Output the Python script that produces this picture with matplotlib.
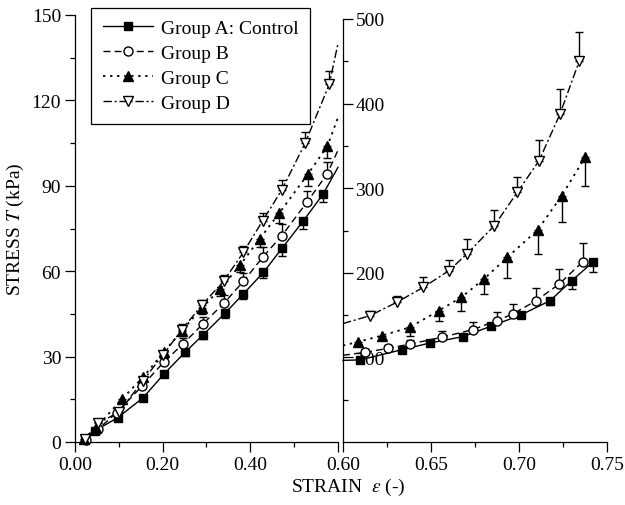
import matplotlib
matplotlib.use("Agg")
import matplotlib.pyplot as plt
from matplotlib.lines import Line2D
from matplotlib.ticker import MultipleLocator, FixedLocator

plt.rcParams['font.family'] = ['Liberation Serif', 'DejaVu Serif']
plt.rcParams['mathtext.fontset'] = 'stix'
plt.rcParams['font.size'] = 14

labels = ['Group A: Control', 'Group B', 'Group C', 'Group D']

# left panel (strain 0 - 0.6)
xA = [0.023, 0.046, 0.097, 0.155, 0.203, 0.251, 0.292, 0.342, 0.384, 0.43, 0.472, 0.52, 0.566]
yA = [1.0, 4.0, 8.5, 15.5, 23.9, 31.5, 37.6, 45.2, 52.0, 59.6, 68.0, 77.5, 87.1]
eA = [0.5, 0.6, 0.8, 1.0, 1.2, 1.4, 1.5, 1.7, 1.9, 2.1, 2.6, 2.7, 2.9]

xB = [0.025, 0.052, 0.095, 0.152, 0.202, 0.246, 0.292, 0.34, 0.384, 0.428, 0.472, 0.529, 0.575]
yB = [0.8, 4.4, 10.3, 19.5, 28.0, 34.4, 41.5, 48.8, 56.4, 64.9, 72.5, 84.2, 94.1]
eB = [0.5, 0.6, 0.8, 1.2, 1.5, 2.0, 2.3, 2.7, 3.0, 3.5, 4.0, 4.1, 4.1]

xC = [0.02, 0.048, 0.107, 0.155, 0.202, 0.244, 0.289, 0.331, 0.377, 0.421, 0.466, 0.531, 0.576]
yC = [1.0, 5.0, 15.1, 22.7, 31.5, 39.1, 47.0, 53.7, 62.2, 71.3, 80.4, 94.0, 104.0]
eC = [0.5, 0.6, 0.9, 1.2, 1.5, 1.8, 2.0, 2.3, 2.6, 2.9, 3.3, 3.9, 4.2]

xD = [0.022, 0.052, 0.1, 0.155, 0.2, 0.244, 0.289, 0.339, 0.384, 0.428, 0.472, 0.525, 0.58]
yD = [1.0, 6.5, 10.5, 21.5, 30.5, 39.5, 48.0, 56.5, 66.6, 77.7, 88.6, 105.0, 125.6]
eD = [0.5, 0.6, 0.8, 1.2, 1.5, 1.8, 2.0, 2.3, 2.1, 2.9, 3.5, 3.9, 4.8]

# curve values where the two panels meet (strain 0.6)
edge_val = [96.5, 102.5, 114.0, 140.0]

# right panel (strain 0.6 - 0.75)
rxA = [0.6097, 0.6333, 0.6494, 0.668, 0.6839, 0.701, 0.7176, 0.73, 0.7419]
ryA = [97.0, 109.0, 117.0, 124.5, 136.7, 150.1, 167.0, 190.7, 212.4]
reA = [3, 3, 3, 3, 3, 4, 5, 10, 12]

rxB = [0.6125, 0.6257, 0.638, 0.656, 0.6737, 0.6873, 0.6964, 0.7097, 0.7229, 0.7362]
ryB = [106.0, 110.7, 115.8, 123.7, 132.8, 143.4, 151.3, 167.0, 186.8, 213.1]
reB = [4, 4, 5, 7, 9, 10, 12, 15, 18, 22]

rxC = [0.6087, 0.622, 0.6379, 0.6544, 0.6672, 0.6801, 0.6934, 0.7106, 0.7243, 0.7375]
ryC = [118.5, 125.7, 135.5, 155.2, 171.0, 192.7, 218.3, 250.6, 291.2, 336.5]
reC = [3, 4, 10, 12, 16, 18, 24, 28, 31, 34]

rxD = [0.6153, 0.6305, 0.6456, 0.6602, 0.6703, 0.686, 0.699, 0.7114, 0.7233, 0.7343]
ryD = [149.3, 165.1, 182.8, 202.5, 222.2, 255.7, 295.1, 332.5, 387.7, 450.7]
reD = [6, 8, 12, 13, 18, 18, 18, 24, 29, 34]

left = [(xA, yA, eA), (xB, yB, eB), (xC, yC, eC), (xD, yD, eD)]
right = [(rxA, ryA, reA), (rxB, ryB, reB), (rxC, ryC, reC), (rxD, ryD, reD)]
markers = ['s', 'o', '^', 'v']
faces = ['black', 'white', 'black', 'white']
sizes = [6, 6.5, 7, 7.5]
styles = ['-', (0, (5, 3)), (0, (1.3, 2.6)), (0, (6, 2, 1.5, 2))]
widths = [1.0, 1.0, 1.3, 1.0]
err_down = [True, False, True, False]

fig = plt.figure(figsize=(6.25, 5.06), dpi=100)
ax1 = fig.add_axes([75 / 625, 63 / 506, 263 / 625, 427 / 506])
ax2 = fig.add_axes([343 / 625, 63 / 506, 264 / 625, 423 / 506])


def draw(ax, data, join_at_start):
    for i, (x, y, e) in enumerate(data):
        if join_at_start:
            lx, ly = [0.6] + x, [edge_val[i]] + y
        else:
            lx, ly = x + [0.6], y + [edge_val[i]]
        ax.plot(lx, ly, color='black', lw=widths[i], ls=styles[i], zorder=2, clip_on=False)
        zeros = [0] * len(e)
        yerr = [e, zeros] if err_down[i] else [zeros, e]
        ax.errorbar(x, y, yerr=yerr, fmt='none', ecolor='black', elinewidth=1.0,
                    capsize=3, capthick=1.0, zorder=2.5, clip_on=False)
        ax.plot(x, y, ls='none', marker=markers[i], ms=sizes[i], mfc=faces[i],
                mec='black', mew=1.0, zorder=3, clip_on=False)


draw(ax1, left, False)
draw(ax2, right, True)

for ax in (ax1, ax2):
    ax.spines['top'].set_visible(False)
    ax.spines['right'].set_visible(False)
    for s in ('left', 'bottom'):
        ax.spines[s].set_linewidth(0.9)

ax1.set_xlim(0, 0.6)
ax1.set_ylim(0, 150)
ax1.xaxis.set_major_locator(FixedLocator([0.0, 0.2, 0.4, 0.6]))
ax1.xaxis.set_minor_locator(FixedLocator([0.1, 0.3, 0.5]))
ax1.set_xticklabels(['0.00', '0.20', '0.40', ''])
ax1.yaxis.set_major_locator(MultipleLocator(30))
ax1.yaxis.set_minor_locator(MultipleLocator(15))
ax1.tick_params(which='major', direction='out', length=7, width=0.9, pad=3)
ax1.tick_params(which='minor', direction='out', length=3.5, width=0.9)
ax1.set_ylabel('STRESS $T$ (kPa)', labelpad=4)

ax2.set_xlim(0.6, 0.75)
ax2.set_ylim(0, 500)
ax2.xaxis.set_major_locator(FixedLocator([0.6, 0.65, 0.7, 0.75]))
ax2.xaxis.set_minor_locator(FixedLocator([0.625, 0.675, 0.725]))
ax2.set_xticklabels(['0.60', '0.65', '0.70', '0.75'])
ax2.yaxis.set_major_locator(FixedLocator([100, 200, 300, 400, 500]))
ax2.yaxis.set_minor_locator(FixedLocator([50, 150, 250, 350, 450]))
ax2.tick_params(axis='x', which='major', direction='out', length=7, width=0.9, pad=3)
ax2.tick_params(axis='x', which='minor', direction='out', length=3.5, width=0.9)
ax2.tick_params(axis='y', which='major', direction='in', length=7, width=0.9)
ax2.tick_params(axis='y', which='minor', direction='in', length=3.5, width=0.9)
for t in ax2.get_yticklabels():
    t.set_horizontalalignment('left')
ax2.yaxis.set_tick_params(pad=-9)

fig.text(348 / 625, 1 - 487 / 506, 'STRAIN  $\\varepsilon$ (-)', ha='center', va='center')

handles = [Line2D([], [], color='black', lw=widths[i], ls=styles[i], marker=markers[i],
                  ms=sizes[i], mfc=faces[i], mec='black') for i in range(4)]
leg = fig.legend(handles, labels, loc='upper left', bbox_to_anchor=(91 / 625, 1 - 9 / 506),
                 borderaxespad=0, frameon=True, fancybox=False, framealpha=1,
                 edgecolor='black', handlelength=2.6, handletextpad=0.4,
                 labelspacing=0.38, borderpad=0.6)
leg.get_frame().set_linewidth(0.9)

fig.savefig('out.png', dpi=100)
